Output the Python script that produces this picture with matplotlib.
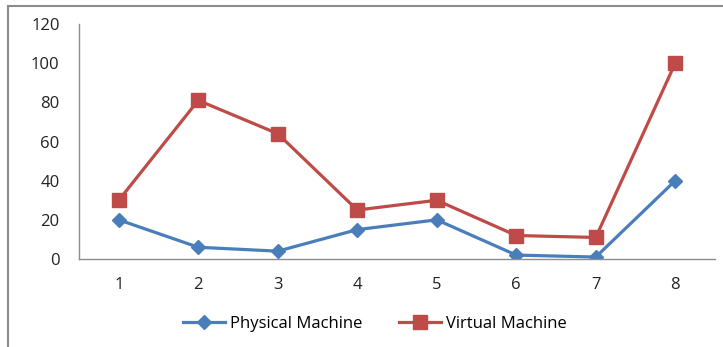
import matplotlib.pyplot as plt
from matplotlib.lines import Line2D

plt.rcParams['font.family'] = ['Open Sans', 'DejaVu Sans']

# series values per run
runs = [1, 2, 3, 4, 5, 6, 7, 8]
physical = [20, 6, 4, 15, 20, 2, 1, 40]
virtual = [30, 81, 64, 25, 30, 12, 11, 100]
yticks = [0, 20, 40, 60, 80, 100, 120]

blue = '#4A7EBB'
red = '#BE4B48'
grey = '#8C8C8C'

fig = plt.figure(figsize=(7.23, 3.47), dpi=100)
ax = fig.add_axes([79 / 723, 1 - 259 / 347, 636 / 723, 235 / 347])

ax.plot(runs, physical, color=blue, lw=2.3, marker='D', ms=7, label='Physical Machine')
ax.plot(runs, virtual, color=red, lw=2.3, marker='s', ms=10, label='Virtual Machine')

ax.set_xlim(0.5, 8.5)
ax.set_ylim(0, 120)
ax.set_xticks(runs)
ax.set_yticks(yticks)
ax.tick_params(length=0, labelsize=12, colors='#222222')
ax.tick_params(axis='x', pad=13)
ax.tick_params(axis='y', pad=14)
for side in ['top', 'right']:
    ax.spines[side].set_visible(False)
for side in ['left', 'bottom']:
    ax.spines[side].set_color(grey)
    ax.spines[side].set_linewidth(1)

fig.legend(loc='center', bbox_to_anchor=(375 / 723, 1 - 324 / 347), ncol=2,
           frameon=False, fontsize=12, handlelength=2.5, columnspacing=2.2,
           handletextpad=0.3)

# outer chart border (left and top edges)
fig.add_artist(Line2D([8 / 723, 8 / 723], [0, 1 - 6 / 347], color=grey, lw=1.5))
fig.add_artist(Line2D([8 / 723, 1], [1 - 6 / 347, 1 - 6 / 347], color=grey, lw=1.5))

fig.savefig('out.png', dpi=100)
